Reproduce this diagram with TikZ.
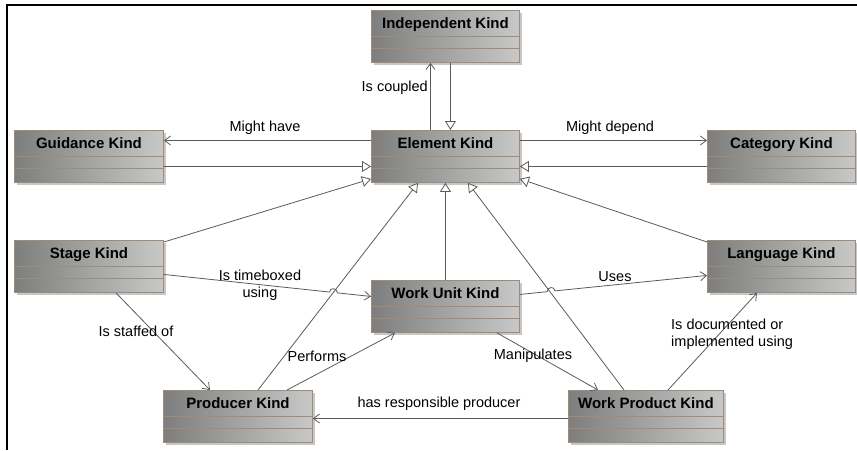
\documentclass[tikz,border=0pt]{standalone}
\usepackage{fontspec}
\setmainfont{Liberation Sans}
\usetikzlibrary{arrows.meta,calc,shadows}
\definecolor{brd}{HTML}{A08A78}
\definecolor{gL}{HTML}{7E7E7E}
\definecolor{gR}{HTML}{C8C8C8}
\definecolor{ln}{HTML}{5A5A5A}
\begin{document}
\begin{tikzpicture}[x=1pt,y=-1pt,
  kind/.style={draw=brd, line width=0.9pt, left color=gL, right color=gR,
    minimum width=148pt, inner sep=0pt, text height=18pt, text depth=34pt,
    font=\fontsize{15}{18}\selectfont\bfseries, anchor=north west,
    drop shadow={shadow xshift=3pt, shadow yshift=-3pt, fill=black!22, opacity=1, draw=none},
    path picture={\draw[brd, line width=0.9pt]
      ($(path picture bounding box.north west)+(0,26)$) -- ($(path picture bounding box.north east)+(0,26)$)
      ($(path picture bounding box.north west)+(0,38)$) -- ($(path picture bounding box.north east)+(0,38)$);}},
  assoc/.style={draw=ln, line width=0.8pt, -{Straight Barb[length=6pt,width=9pt,line width=0.8pt]}},
  gen/.style={draw=ln, line width=0.8pt, -{Triangle[open, length=9pt, width=11pt, fill=white, line width=0.8pt]}},
  lbl/.style={font=\fontsize{14.5}{17}\selectfont, inner sep=0pt, align=center}
]
\useasboundingbox (0,0) rectangle (857,450);
\draw[line width=2pt] (857,5) -- (7,5) -- (7,450);

\node[kind] (ik) at (371,10) {Independent Kind};
\node[kind] (ek) at (371,130) {Element Kind};
\node[kind, minimum width=149pt] (gk) at (14,130) {Guidance Kind};
\node[kind] (ck) at (707,130) {Category Kind};
\node[kind, minimum width=149pt] (sk) at (14,240) {Stage Kind};
\node[kind] (lk) at (707,240) {Language Kind};
\node[kind] (wu) at (371,280) {Work Unit Kind};
\node[kind, minimum width=149pt] (pk) at (163,390) {Producer Kind};
\node[kind, minimum width=155pt] (wp) at (568,390) {Work Product Kind};

% coupled
\draw[assoc] ($(ek.north)+(-15,0)$) -- ($(ik.south)+(-15,0)$);
\draw[gen] ($(ik.south)+(5,0)$) -- ($(ek.north)+(5,0)$);
% might have / depend
\draw[assoc] ($(ek.west)+(0,-16)$) -- ($(gk.east)+(0,-16)$);
\draw[gen] ($(gk.east)+(0,10)$) -- ($(ek.west)+(0,10)$);
\draw[assoc] ($(ek.east)+(0,-16)$) -- ($(ck.west)+(0,-16)$);
\draw[gen] ($(ck.west)+(0,10)$) -- ($(ek.east)+(0,10)$);
% generalizations to Element Kind
\draw[gen] ($(sk.north east)+(0,2)$) -- ($(ek.south west)+(0,-4)$);
\draw[gen] ($(lk.north west)+(0,2)$) -- ($(ek.south east)+(0,-4)$);
\draw[gen] (wu.north) -- (ek.south);
\draw[gen] ($(pk.north west)+(95,0)$) -- ($(ek.south west)+(47,0)$);
\draw[gen] ($(wp.north west)+(56,0)$) -- ($(ek.south west)+(97,0)$);
% timeboxed with hop
\coordinate (t1s) at ($(sk.east)+(0,8)$);
\coordinate (t1e) at ($(wu.west)+(0,-10)$);
\draw[assoc] (t1s) -- ($(t1s)!0.80!(t1e)$) .. controls +(0,-5) and +(0,-5) .. ($(t1s)!0.838!(t1e)$) -- (t1e);
% uses with hop
\coordinate (t2s) at ($(wu.east)+(0,-12)$);
\coordinate (t2e) at ($(lk.west)+(0,9)$);
\draw[assoc] (t2s) -- ($(t2s)!0.145!(t2e)$) .. controls +(0,-5) and +(0,-5) .. ($(t2s)!0.187!(t2e)$) -- (t2e);
% other associations
\draw[assoc] ($(sk.south west)+(102,0)$) -- ($(pk.north west)+(47,0)$);
\draw[assoc] ($(pk.north west)+(124,0)$) -- ($(wu.south west)+(24,0)$);
\draw[assoc] ($(wu.south west)+(126,0)$) -- ($(wp.north west)+(30,0)$);
\draw[assoc] ($(wp.north west)+(100,0)$) -- ($(lk.south west)+(50,0)$);
\draw[assoc] ($(wp.west)+(0,2)$) -- ($(pk.east)+(0,2)$);

% labels
\node[lbl, anchor=east] (l1) at (428,88) {Is coupled};
\node[lbl] (l2) at (265,128) {Might have};
\node[lbl] (l3) at (610,128) {Might depend};
\node[lbl] (l4) at (260,285) {Is timeboxed\\using};
\node[lbl] (l5) at (615,277) {Uses};
\node[lbl] (l6) at (136,331) {Is staffed of};
\node[lbl] (l7) at (317,356) {Performs};
\node[lbl] (l8) at (533,356) {Manipulates};
\node[lbl, anchor=west, align=left] (l9) at (671,334) {Is documented or\\implemented using};
\node[lbl] (l10) at (439,404) {has responsible producer};
\end{tikzpicture}
\end{document}
